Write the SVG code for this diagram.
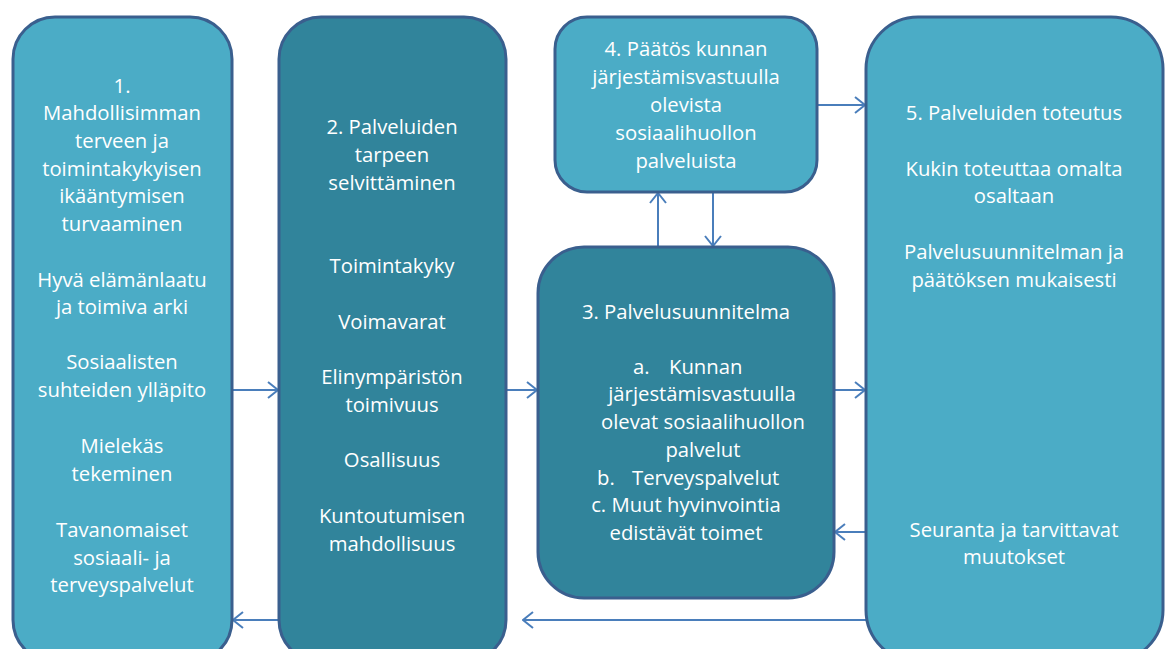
<svg xmlns="http://www.w3.org/2000/svg" width="1166" height="649" viewBox="0 0 1166 649">
<style>
.light{fill:#4BACC6;stroke:#3A5F8E;stroke-width:3}
.dark{fill:#31849B;stroke:#3A5F8E;stroke-width:3}
text{font-family:"Open Sans","Liberation Sans",Arial,sans-serif;font-size:20.3px;fill:#FFFFFF;text-anchor:middle}
.st{text-anchor:start}
.c{stroke:#4A7EBB;stroke-width:2;fill:none;marker-end:url(#arr)}
</style>
<defs>
<marker id="arr" viewBox="0 0 12 18" refX="11" refY="9" markerWidth="12" markerHeight="18" markerUnits="userSpaceOnUse" orient="auto">
<path d="M1,1 L11,9 L1,17" fill="none" stroke="#4A7EBB" stroke-width="2"/>
</marker>
</defs>
<rect width="1166" height="649" fill="#FFFFFF"/>
<g id="connectors">
<line class="c" x1="232" y1="390" x2="278" y2="390"/>
<line class="c" x1="506" y1="390" x2="537" y2="390"/>
<line class="c" x1="834" y1="390" x2="865" y2="390"/>
<line class="c" x1="866" y1="532" x2="835" y2="532"/>
<line class="c" x1="817" y1="105" x2="865" y2="105"/>
<line class="c" x1="658" y1="247" x2="658" y2="193"/>
<line class="c" x1="713" y1="192" x2="713" y2="246"/>
<line class="c" x1="866" y1="620" x2="523" y2="620"/>
<line class="c" x1="279" y1="620" x2="233" y2="620"/>
</g>
<g id="node1">
<rect class="light" x="13" y="17" width="219" height="645" rx="42"/>
<text x="122" y="93">1.</text>
<text x="122" y="120">Mahdollisimman</text>
<text x="122" y="148">terveen ja</text>
<text x="122" y="176">toimintakykyisen</text>
<text x="122" y="203">ikääntymisen</text>
<text x="122" y="231">turvaaminen</text>
<text x="122" y="287">Hyvä elämänlaatu</text>
<text x="122" y="314">ja toimiva arki</text>
<text x="122" y="369">Sosiaalisten</text>
<text x="122" y="397">suhteiden ylläpito</text>
<text x="122" y="453">Mielekäs</text>
<text x="122" y="481">tekeminen</text>
<text x="122" y="537">Tavanomaiset</text>
<text x="122" y="565">sosiaali- ja</text>
<text x="122" y="592">terveyspalvelut</text>
</g>
<g id="node2">
<rect class="dark" x="279" y="17" width="227" height="645" rx="42"/>
<text x="392" y="134">2. Palveluiden</text>
<text x="392" y="162">tarpeen</text>
<text x="392" y="190">selvittäminen</text>
<text x="392" y="273">Toimintakyky</text>
<text x="392" y="329">Voimavarat</text>
<text x="392" y="384">Elinympäristön</text>
<text x="392" y="412">toimivuus</text>
<text x="392" y="467">Osallisuus</text>
<text x="392" y="523">Kuntoutumisen</text>
<text x="392" y="551">mahdollisuus</text>
</g>
<g id="node4">
<rect class="light" x="555" y="17" width="262" height="175" rx="32"/>
<text x="686" y="56">4. Päätös kunnan</text>
<text x="686" y="84">järjestämisvastuulla</text>
<text x="686" y="112">olevista</text>
<text x="686" y="140">sosiaalihuollon</text>
<text x="686" y="168">palveluista</text>
</g>
<g id="node3">
<rect class="dark" x="538" y="247" width="296" height="351" rx="46"/>
<text x="686" y="319">3. Palvelusuunnitelma</text>
<text class="st" x="633" y="374">a.</text>
<text class="st" x="669" y="374">Kunnan</text>
<text x="702" y="401">järjestämisvastuulla</text>
<text x="703" y="429">olevat sosiaalihuollon</text>
<text x="703" y="457">palvelut</text>
<text class="st" x="597" y="485">b.</text>
<text class="st" x="632" y="485">Terveyspalvelut</text>
<text x="686" y="512">c. Muut hyvinvointia</text>
<text x="686" y="540">edistävät toimet</text>
</g>
<g id="node5">
<rect class="light" x="866" y="17" width="297" height="645" rx="52"/>
<text x="1014" y="120">5. Palveluiden toteutus</text>
<text x="1014" y="176">Kukin toteuttaa omalta</text>
<text x="1014" y="203">osaltaan</text>
<text x="1014" y="259">Palvelusuunnitelman ja</text>
<text x="1014" y="287">päätöksen mukaisesti</text>
<text x="1014" y="537">Seuranta ja tarvittavat</text>
<text x="1014" y="564">muutokset</text>
</g>
</svg>
